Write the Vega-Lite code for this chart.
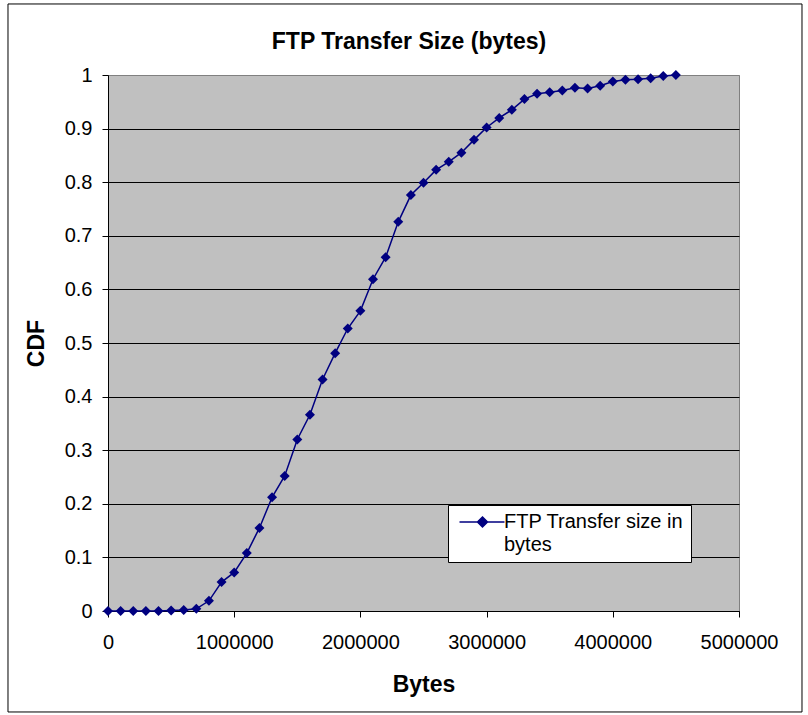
{
  "$schema": "https://vega.github.io/schema/vega-lite/v6.json",
  "width": 631,
  "height": 536,
  "autosize": "none",
  "padding": {"left": 108, "top": 75, "right": 69, "bottom": 104},
  "background": "white",
  "title": {
    "text": "FTP Transfer Size (bytes)",
    "font": "Liberation Sans",
    "fontSize": 23,
    "fontWeight": "bold",
    "color": "black",
    "baseline": "alphabetic",
    "offset": -68.5,
    "frame": "group",
    "dx": -14.5,
    "anchor": "middle"
  },
  "config": {
    "view": {"fill": "#C0C0C0", "stroke": "#808080", "strokeWidth": 1},
    "font": "Liberation Sans"
  },
  "data": {
    "values": [
      {"bytes": 0, "cdf": 0, "series": "FTP Transfer size in bytes"},
      {"bytes": 100000, "cdf": 0, "series": "FTP Transfer size in bytes"},
      {"bytes": 200000, "cdf": 0, "series": "FTP Transfer size in bytes"},
      {"bytes": 300000, "cdf": 0, "series": "FTP Transfer size in bytes"},
      {"bytes": 400000, "cdf": 0, "series": "FTP Transfer size in bytes"},
      {"bytes": 500000, "cdf": 0.001, "series": "FTP Transfer size in bytes"},
      {"bytes": 600000, "cdf": 0.002, "series": "FTP Transfer size in bytes"},
      {"bytes": 700000, "cdf": 0.004, "series": "FTP Transfer size in bytes"},
      {"bytes": 800000, "cdf": 0.019, "series": "FTP Transfer size in bytes"},
      {"bytes": 900000, "cdf": 0.054, "series": "FTP Transfer size in bytes"},
      {"bytes": 1000000, "cdf": 0.072, "series": "FTP Transfer size in bytes"},
      {"bytes": 1100000, "cdf": 0.108, "series": "FTP Transfer size in bytes"},
      {"bytes": 1200000, "cdf": 0.155, "series": "FTP Transfer size in bytes"},
      {"bytes": 1300000, "cdf": 0.212, "series": "FTP Transfer size in bytes"},
      {"bytes": 1400000, "cdf": 0.252, "series": "FTP Transfer size in bytes"},
      {"bytes": 1500000, "cdf": 0.32, "series": "FTP Transfer size in bytes"},
      {"bytes": 1600000, "cdf": 0.366, "series": "FTP Transfer size in bytes"},
      {"bytes": 1700000, "cdf": 0.432, "series": "FTP Transfer size in bytes"},
      {"bytes": 1800000, "cdf": 0.481, "series": "FTP Transfer size in bytes"},
      {"bytes": 1900000, "cdf": 0.527, "series": "FTP Transfer size in bytes"},
      {"bytes": 2000000, "cdf": 0.56, "series": "FTP Transfer size in bytes"},
      {"bytes": 2100000, "cdf": 0.619, "series": "FTP Transfer size in bytes"},
      {"bytes": 2200000, "cdf": 0.66, "series": "FTP Transfer size in bytes"},
      {"bytes": 2300000, "cdf": 0.726, "series": "FTP Transfer size in bytes"},
      {"bytes": 2400000, "cdf": 0.776, "series": "FTP Transfer size in bytes"},
      {"bytes": 2500000, "cdf": 0.799, "series": "FTP Transfer size in bytes"},
      {"bytes": 2600000, "cdf": 0.823, "series": "FTP Transfer size in bytes"},
      {"bytes": 2700000, "cdf": 0.838, "series": "FTP Transfer size in bytes"},
      {"bytes": 2800000, "cdf": 0.855, "series": "FTP Transfer size in bytes"},
      {"bytes": 2900000, "cdf": 0.879, "series": "FTP Transfer size in bytes"},
      {"bytes": 3000000, "cdf": 0.902, "series": "FTP Transfer size in bytes"},
      {"bytes": 3100000, "cdf": 0.92, "series": "FTP Transfer size in bytes"},
      {"bytes": 3200000, "cdf": 0.935, "series": "FTP Transfer size in bytes"},
      {"bytes": 3300000, "cdf": 0.955, "series": "FTP Transfer size in bytes"},
      {"bytes": 3400000, "cdf": 0.965, "series": "FTP Transfer size in bytes"},
      {"bytes": 3500000, "cdf": 0.968, "series": "FTP Transfer size in bytes"},
      {"bytes": 3600000, "cdf": 0.971, "series": "FTP Transfer size in bytes"},
      {"bytes": 3700000, "cdf": 0.976, "series": "FTP Transfer size in bytes"},
      {"bytes": 3800000, "cdf": 0.975, "series": "FTP Transfer size in bytes"},
      {"bytes": 3900000, "cdf": 0.98, "series": "FTP Transfer size in bytes"},
      {"bytes": 4000000, "cdf": 0.988, "series": "FTP Transfer size in bytes"},
      {"bytes": 4100000, "cdf": 0.991, "series": "FTP Transfer size in bytes"},
      {"bytes": 4200000, "cdf": 0.992, "series": "FTP Transfer size in bytes"},
      {"bytes": 4300000, "cdf": 0.994, "series": "FTP Transfer size in bytes"},
      {"bytes": 4400000, "cdf": 0.998, "series": "FTP Transfer size in bytes"},
      {"bytes": 4500000, "cdf": 1.0, "series": "FTP Transfer size in bytes"}
    ]
  },
  "encoding": {
    "x": {
      "field": "bytes",
      "type": "quantitative",
      "scale": {"domain": [0, 5000000], "nice": false, "zero": false},
      "axis": {
        "title": "Bytes",
        "values": [0, 1000000, 2000000, 3000000, 4000000, 5000000],
        "format": "d",
        "grid": false,
        "domainColor": "black",
        "domainWidth": 1,
        "tickColor": "black",
        "tickSize": 6,
        "labelPadding": 15,
        "labelFont": "Liberation Sans",
        "labelFontSize": 20,
        "labelColor": "black",
        "labelFlush": false,
        "titleFont": "Liberation Sans",
        "titleFontSize": 23,
        "titleFontWeight": "bold",
        "titleColor": "black",
        "titleBaseline": "alphabetic",
        "titleY": 80
      }
    },
    "y": {
      "field": "cdf",
      "type": "quantitative",
      "scale": {"domain": [0, 1], "nice": false},
      "axis": {
        "title": "CDF",
        "values": [0, 0.1, 0.2, 0.3, 0.4, 0.5, 0.6, 0.7, 0.8, 0.9, 1],
        "format": "~g",
        "grid": true,
        "gridColor": {"condition": {"test": "datum.value >= 1", "value": "#808080"}, "value": "black"},
        "gridWidth": 1,
        "gridOpacity": 1,
        "domainColor": "black",
        "domainWidth": 1,
        "tickColor": "black",
        "tickSize": 6,
        "labelPadding": 10,
        "labelFont": "Liberation Sans",
        "labelFontSize": 20,
        "labelColor": "black",
        "labelFlush": false,
        "titleFont": "Liberation Sans",
        "titleFontSize": 23,
        "titleFontWeight": "bold",
        "titleColor": "black",
        "titleX": -72,
        "titleY": 268,
        "titleAngle": -90,
        "titleAlign": "center",
        "titleBaseline": "middle"
      }
    }
  },
  "layer": [
    {
      "data": {"values": [{"x0": -792400, "x1": 5499200, "y0": -0.1884, "y1": 1.1325}]},
      "mark": {"type": "rect", "fill": "transparent", "stroke": "black", "strokeWidth": 1, "clip": false},
      "encoding": {
        "x": {"field": "x0", "type": "quantitative"},
        "x2": {"field": "x1"},
        "y": {"field": "y1", "type": "quantitative"},
        "y2": {"field": "y0"}
      }
    },
    {
      "mark": {"type": "line", "strokeWidth": 1.5},
      "encoding": {
        "color": {
          "field": "series",
          "type": "nominal",
          "scale": {"range": ["#000080"]},
          "legend": {
            "title": null,
            "orient": "none",
            "legendX": 340,
            "legendY": 430,
            "fillColor": "white",
            "strokeColor": "black",
            "padding": 7,
            "symbolType": "M-1,0H7.18M3.18,-0.91L4.09,0L3.18,0.91L2.27,0Z",
            "symbolSize": 121,
            "symbolStrokeWidth": 1.5,
            "labelOffset": 29,
            "labelFont": "Liberation Sans",
            "labelFontSize": 20,
            "labelColor": "black",
            "labelLimit": 400,
            "labelExpr": "['FTP Transfer size in', 'bytes']",
            "encode": {
              "symbols": {"update": {"fill": {"value": "#000080"}, "stroke": {"value": "#000080"}, "strokeWidth": {"value": 1.5}, "opacity": {"value": 1}}},
              "labels": {"update": {"lineHeight": {"value": 23}}}
            }
          }
        }
      }
    },
    {
      "mark": {"type": "point", "shape": "diamond", "filled": true, "size": 100, "color": "#000080", "opacity": 1},
      "encoding": {}
    }
  ]
}
